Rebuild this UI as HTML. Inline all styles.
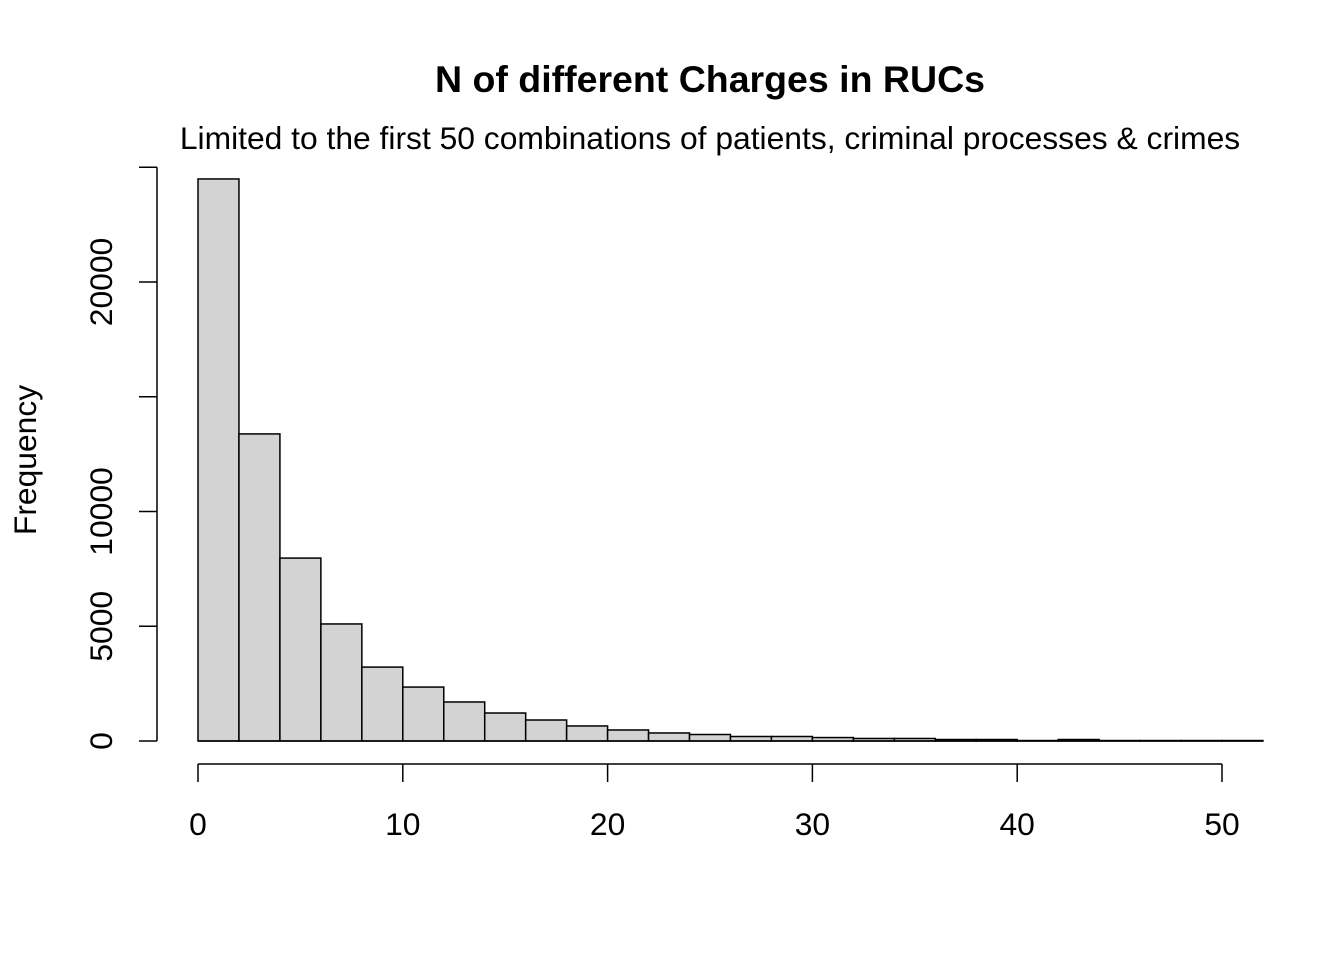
<!DOCTYPE html>
<html><head><meta charset="utf-8"><style>body{margin:0;background:#fff}svg{display:block}</style></head>
<body>
<svg id="chart" width="1344" height="960" xmlns="http://www.w3.org/2000/svg" font-family="Liberation Sans, Arial, sans-serif">
<text x="710" y="92" text-anchor="middle" font-size="37.5" font-weight="bold">N of different Charges in RUCs</text>
<text x="710" y="149" text-anchor="middle" font-size="31.8">Limited to the first 50 combinations of patients, criminal processes &amp; crimes</text>
<text transform="translate(36,460) rotate(-90)" text-anchor="middle" font-size="31.8">Frequency</text>
<g id="bars"></g>
<g id="axes"></g>
</svg>
<script>
const binStarts = [0,2,4,6,8,10,12,14,16,18,20,22,24,26,28,30,32,34,36,38,40,42,44,46,48,50];
const binWidth = 2;
const counts = [24490,13380,7970,5100,3220,2350,1700,1220,915,655,480,350,283,196,196,150,110,110,65,65,20,65,20,20,20,20];
const xTicks = [0,10,20,30,40,50];
const yTicks = [0,5000,10000,15000,20000,25000];
const yTickLabels = ["0","5000","10000","","20000",""];
const NS = "http://www.w3.org/2000/svg";
const xs = v => 198 + v * 20.48;
const ys = v => 741 - v * 0.02295;
const bars = document.getElementById('bars');
const axes = document.getElementById('axes');
function mk(tag, attrs, parent){const e=document.createElementNS(NS,tag);for(const k in attrs)e.setAttribute(k,attrs[k]);parent.appendChild(e);return e;}
binStarts.forEach((b,i)=>{
  const r = mk('rect',{x:xs(b),y:ys(counts[i]),width:xs(b+binWidth)-xs(b),height:ys(0)-ys(counts[i]),fill:'#d3d3d3',stroke:'#000','stroke-width':1.5},bars);
  
  
});
const xa = mk('line',{x1:xs(0),x2:xs(50),y1:764,y2:764,stroke:'#000','stroke-width':1.5},axes);


xTicks.forEach(t=>{
  mk('line',{x1:xs(t),x2:xs(t),y1:764,y2:782,stroke:'#000','stroke-width':1.5},axes);
  const tx = mk('text',{x:xs(t),y:835,'text-anchor':'middle','font-size':31.8},axes);
  tx.textContent = t;
  
  
});
const ya = mk('line',{x1:157,x2:157,y1:ys(0),y2:ys(25000),stroke:'#000','stroke-width':1.5},axes);


yTicks.forEach((t,i)=>{
  mk('line',{x1:139,x2:157,y1:ys(t),y2:ys(t),stroke:'#000','stroke-width':1.5},axes);
  if(yTickLabels[i]){
    const tx = mk('text',{transform:`translate(112,${ys(t)}) rotate(-90)`,'text-anchor':'middle','font-size':31.8},axes);
    tx.textContent = yTickLabels[i];
    
    
  }
});
const base = mk('line',{x1:xs(0),x2:xs(52),y1:741,y2:741,stroke:'#000','stroke-width':1.5},axes);


</script>
</body></html>
